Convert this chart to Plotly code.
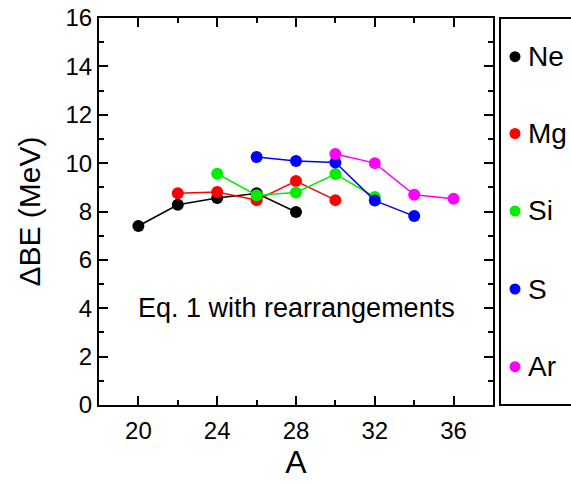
import plotly.graph_objects as go

A_ne = [20, 22, 24, 26, 28]
BE_ne = [7.40, 8.28, 8.56, 8.75, 7.98]
A_mg = [22, 24, 26, 28, 30]
BE_mg = [8.75, 8.81, 8.47, 9.26, 8.47]
A_si = [24, 26, 28, 30, 32]
BE_si = [9.56, 8.67, 8.79, 9.55, 8.60]
A_s = [26, 28, 30, 32, 34]
BE_s = [10.25, 10.09, 10.03, 8.45, 7.81]
A_ar = [30, 32, 34, 36]
BE_ar = [10.38, 10.00, 8.69, 8.53]

names = ["Ne", "Mg", "Si", "S", "Ar"]
colors = ["#000000", "#ff0000", "#00ee00", "#0000ff", "#ff00ff"]
xs_all = [A_ne, A_mg, A_si, A_s, A_ar]
ys_all = [BE_ne, BE_mg, BE_si, BE_s, BE_ar]

FONT = "Liberation Sans, Arial, Helvetica, sans-serif"

fig = go.Figure()
for name, xs, ys, col in zip(names, xs_all, ys_all, colors):
    fig.add_trace(go.Scatter(
        x=xs, y=ys, mode="lines+markers", name=name, showlegend=False,
        line=dict(color=col, width=1.5),
        marker=dict(color=col, size=12),
        hoverinfo="x+y+name",
    ))

fig.add_annotation(
    x=28.05, y=4.0, xref="x", yref="y", text="Eq. 1 with rearrangements",
    showarrow=False, font=dict(size=27, color="black", family=FONT),
)

# Separate legend panel to the right of the plot area
PLOT_L, PLOT_R, PLOT_T, PLOT_B = 99, 493, 18, 405
def px_to_paper_x(px):
    return (px - PLOT_L) / (PLOT_R - PLOT_L)
def px_to_paper_y(py):
    return (PLOT_B - py) / (PLOT_B - PLOT_T)

fig.add_shape(type="rect", xref="paper", yref="paper",
              x0=px_to_paper_x(500), x1=px_to_paper_x(600), y0=0, y1=1,
              line=dict(color="black", width=2), fillcolor="rgba(0,0,0,0)")

legend_rows = [56.7, 133.5, 211, 289, 366.7]
for name, col, py in zip(names, colors, legend_rows):
    xm = px_to_paper_x(515)
    ym = px_to_paper_y(py)
    fig.add_shape(type="circle", xref="paper", yref="paper",
                  xsizemode="pixel", ysizemode="pixel",
                  xanchor=xm, yanchor=ym, x0=-5.5, x1=5.5, y0=-5.5, y1=5.5,
                  line=dict(color=col, width=0), fillcolor=col)
    fig.add_annotation(x=px_to_paper_x(526), y=ym, xref="paper", yref="paper",
                       xanchor="left", yanchor="middle", text=name, showarrow=False,
                       font=dict(size=28, color="black", family=FONT))

axis_common = dict(
    showline=True, linecolor="black", linewidth=2, mirror="allticks",
    ticks="inside", ticklen=9, tickwidth=2, tickcolor="black",
    showgrid=False, zeroline=False,
    tickfont=dict(size=24, color="black", family=FONT),
)

fig.update_xaxes(
    range=[18, 38], tickvals=[20, 24, 28, 32, 36],
    minor=dict(tickvals=[18, 22, 26, 30, 34, 38], ticklen=5, tickwidth=2, tickcolor="black", ticks="inside"),
    title=dict(text="A", font=dict(size=32, color="black", family=FONT), standoff=6),
    ticklabelstandoff=3,
    **axis_common,
)
fig.update_yaxes(
    range=[0, 16], tickvals=list(range(0, 17, 2)),
    minor=dict(tickvals=list(range(1, 16, 2)), ticklen=5, tickwidth=2, tickcolor="black", ticks="inside"),
    title=dict(text="ΔBE (MeV)", font=dict(size=30, color="black", family=FONT), standoff=16),
    **axis_common,
)

fig.update_layout(
    width=571, height=484,
    margin=dict(l=PLOT_L, r=571 - PLOT_R, t=PLOT_T, b=484 - PLOT_B, autoexpand=False),
    paper_bgcolor="white", plot_bgcolor="white",
    font=dict(family=FONT, color="black"),
    showlegend=False,
)

fig.write_html("out.html", config={"displayModeBar": False},
               post_script="document.body.style.margin='0';")
